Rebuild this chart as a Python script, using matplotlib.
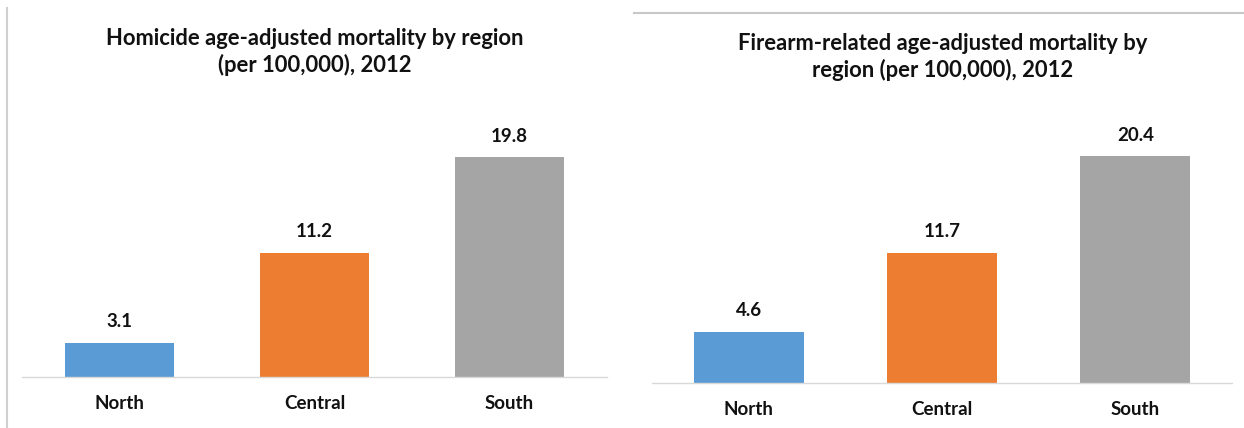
import matplotlib
matplotlib.use("Agg")
import matplotlib.pyplot as plt
from matplotlib.lines import Line2D

categories = ["North", "Central", "South"]
homicide = [3.1, 11.2, 19.8]
firearm = [4.6, 11.7, 20.4]
colors = ["#5B9BD5", "#ED7D31", "#A5A5A5"]
title_left = "Homicide age-adjusted mortality by region\n(per 100,000), 2012"
title_right = "Firearm-related age-adjusted mortality by\nregion (per 100,000), 2012"

plt.rcParams['font.family'] = ['Lato', 'DejaVu Sans']
W, H = 1244, 428
fig = plt.figure(figsize=(W / 100, H / 100), dpi=100)

def px_axes(x0, x1, ybase, height):
    return fig.add_axes([x0 / W, (H - ybase) / H, (x1 - x0) / W, height / H])

def draw(ax, vals, width):
    x = range(len(categories))
    ax.bar(x, vals, width=width, color=colors, zorder=2)
    ax.set_xlim(-0.5, 2.5)
    ax.set_ylim(0, 25)
    for s in ["top", "right", "left"]:
        ax.spines[s].set_visible(False)
    ax.spines["bottom"].set_color("#D9D9D9")
    ax.spines["bottom"].set_linewidth(1.0)
    ax.set_yticks([])
    ax.set_xticks(list(x))
    ax.set_xticklabels(categories, fontsize=13.5, fontweight="bold", color="#111111")
    ax.tick_params(axis="x", length=0, pad=13)
    for i, v in enumerate(vals):
        ax.annotate(f"{v:.1f}", (i, v), xytext=(0, 15), textcoords="offset points",
                    ha="center", va="center", fontsize=13.5, fontweight="bold", color="#111111")

ax1 = px_axes(22, 607, 377, 25 * 11.1)
draw(ax1, homicide, 0.564)
ax2 = px_axes(652, 1232, 383, 25 * 11.13)
draw(ax2, firearm, 0.57)

fig.text(315 / W, 1 - 52 / H, title_left, ha="center", va="center", fontsize=15.8,
         fontweight="bold", color="#111111", linespacing=1.3)
fig.text(943 / W, 1 - 57 / H, title_right, ha="center", va="center", fontsize=15.8,
         fontweight="bold", color="#111111", linespacing=1.3)

# frame lines from the source layout
fig.add_artist(Line2D([7 / W, 7 / W], [0, 1 - 8 / H], transform=fig.transFigure,
                      color="#D0D0D0", lw=1.5))
fig.add_artist(Line2D([634 / W, 1], [1 - 13 / H, 1 - 13 / H], transform=fig.transFigure,
                      color="#C8C8C8", lw=1.5))

fig.savefig("out.png", dpi=100)
